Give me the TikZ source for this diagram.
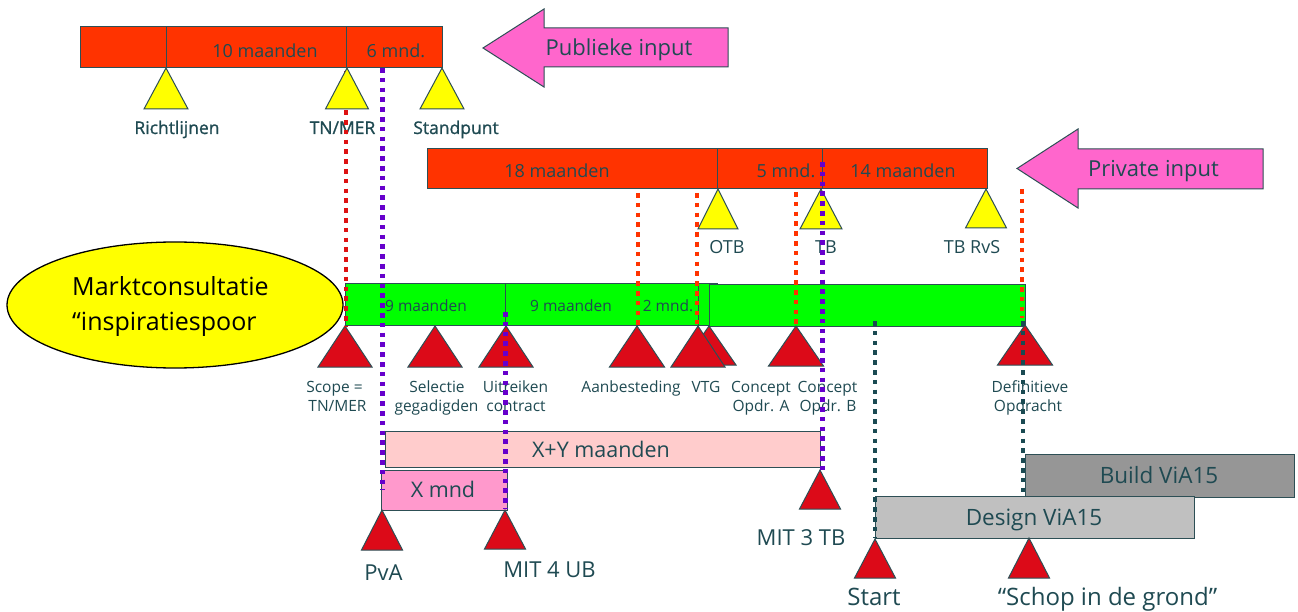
\documentclass[tikz,border=0pt]{standalone}
\usepackage{fontspec}
\setmainfont{Open Sans}
\newfontfamily\boldish[FakeBold=1.0]{Open Sans}
\definecolor{txt}{HTML}{1F4A52}
\definecolor{edge}{HTML}{2D4F55}
\definecolor{barred}{HTML}{FF3300}
\definecolor{yel}{HTML}{FFFF00}
\definecolor{pinkarrow}{HTML}{FF66CC}
\definecolor{grn}{HTML}{00FF00}
\definecolor{trired}{HTML}{DC0A18}
\definecolor{xybar}{HTML}{FFCCCC}
\definecolor{xbar}{HTML}{FF99CC}
\definecolor{buildgray}{HTML}{969696}
\definecolor{designgray}{HTML}{C0C0C0}
\definecolor{crimsondot}{HTML}{DD1111}
\definecolor{orangedot}{HTML}{FF3300}
\definecolor{purpledot}{HTML}{6600CC}
\definecolor{tealdot}{HTML}{1A4A52}
\newcommand\mytri[6]{%
  \coordinate (#1) at (#2,#3);
  \draw[tb,fill=#6] (#1) -- ++(-#4,#5) -- ++({2*#4},0) -- cycle;}
\newcommand\fs[1]{\fontsize{#1}{#1}\selectfont}
\begin{document}
\begin{tikzpicture}[x=1pt,y=-1pt,
  barbox/.style={draw=edge,line width=1pt,anchor=north west,inner sep=0pt,outer sep=0pt},
  lbl/.style={text=txt,inner sep=0pt,anchor=base},
  dotline/.style={line width=4.6pt,dash pattern=on 4.6pt off 5.2pt},
  tb/.style={draw=edge,line width=1pt,line join=miter},
  bartext/.style={lbl,font=\fs{18}},
  toplbl/.style={lbl,font=\boldish\fs{17.5}},
  grnlbl/.style={lbl,font=\fs{15.5}},
]
\useasboundingbox (0,0) rectangle (1298,612);
\fill[white] (0,0) rectangle (1298,612);

% ---------- public row ----------
\node[barbox,fill=barred,minimum width=86pt,minimum height=41pt] (p1) at (80,27) {};
\node[barbox,fill=barred,minimum width=180pt,minimum height=41pt] (p2) at (166,27) {};
\node[barbox,fill=barred,minimum width=96pt,minimum height=41pt] (p3) at (346,27) {};
\node[bartext] (t10) at (265,57.5) {10 maanden};
\node[bartext] (t6) at (396,57.5) {6 mnd.};

\draw[tb,fill=pinkarrow] (483,48) -- (544,9) -- (544,28) -- (728,28) -- (728,67) -- (544,67) -- (544,87) -- cycle;
\node[lbl,font=\fs{22}] (pubin) at (619,55.5) {Publieke input};

\mytri{yR}{166}{68}{22}{41}{yel}
\mytri{ySt}{442}{68}{22}{41}{yel}
\node[toplbl] (lR) at (177,134) {Richtlijnen};
\node[toplbl] (lTN) at (342.5,134) {TN/MER};
\node[toplbl] (lSt) at (456,134) {Standpunt};

% ---------- private row ----------
\node[barbox,fill=barred,minimum width=290pt,minimum height=40pt] (q1) at (427,149) {};
\node[barbox,fill=barred,minimum width=105pt,minimum height=40pt] (q2) at (717,149) {};
\node[barbox,fill=barred,minimum width=165pt,minimum height=40pt] (q3) at (822,149) {};
\node[bartext] (t18) at (557,178) {18 maanden};
\node[bartext] (t5) at (786,178) {5 mnd.};
\node[bartext] (t14) at (903,178) {14 maanden};

\draw[tb,fill=pinkarrow] (1017,168.5) -- (1078,129) -- (1078,149) -- (1263,149) -- (1263,189) -- (1078,189) -- (1078,208) -- cycle;
\node[lbl,font=\fs{22}] (privin) at (1153.5,177) {Private input};

\mytri{yOTB}{718}{189}{20}{40}{yel}
\mytri{yTB}{821}{189}{21}{40}{yel}
\mytri{yRvS}{986}{189}{20.5}{39}{yel}
\node[lbl,font=\fs{18}] (lOTB) at (727,254) {OTB};
\node[lbl,font=\fs{18}] (lTB) at (826,253.5) {TB};
\node[lbl,font=\fs{18}] (lRvS) at (972,254) {TB RvS};

% ---------- ellipse ----------
\draw[line width=1.3pt,fill=yel] (175,305) ellipse [x radius=168, y radius=63];
\node[inner sep=0pt,anchor=base west,font=\fs{25}] (m1) at (72,295) {Marktconsultatie};
\node[inner sep=0pt,anchor=base west,font=\fs{25}] (m2) at (72,330) {“inspiratiespoor};

% ---------- green row ----------
\node[barbox,fill=grn,minimum width=372pt,minimum height=41.5pt] (g1) at (345,283.5) {};
\node[barbox,fill=grn,minimum width=316pt,minimum height=41.5pt] (g2) at (709,284.5) {};
\draw[edge,line width=1pt] (505,283.5) -- (505,325);
\draw[edge,line width=1pt] (698,283.5) -- (698,325);
\node[grnlbl] (g9a) at (426,311) {9 maanden};
\node[grnlbl] (g9b) at (571,311) {9 maanden};
\node[grnlbl] (g2m) at (668,311) {2 mnd.};

\mytri{rScope}{345}{326}{27}{41}{trired}
\mytri{rSel}{435}{326}{27}{41}{trired}
\mytri{rUit}{506}{326}{27}{41}{trired}
\mytri{rAan}{637}{326}{27.5}{41}{trired}
\mytri{rVTGb}{709}{326}{27}{39}{trired}
\mytri{rVTG}{698}{326}{27}{41}{trired}
\mytri{rCon}{796}{326}{27.5}{40}{trired}
\mytri{rDef}{1025}{325}{27.5}{40}{trired}

\node[grnlbl] (lSc1) at (334.5,392) {Scope =};
\node[grnlbl] (lSc2) at (337.5,411.5) {TN/MER};
\node[grnlbl] (lSe1) at (437,392) {Selectie};
\node[grnlbl] (lSe2) at (436.5,411.5) {gegadigden};
\node[grnlbl] (lUi1) at (515.5,392) {Uitreiken};
\node[grnlbl] (lUi2) at (516,411.5) {contract};
\node[grnlbl] (lAan) at (631,392) {Aanbesteding};
\node[grnlbl] (lVTG) at (706,392) {VTG};
\node[grnlbl] (lCA1) at (761,392) {Concept};
\node[grnlbl] (lCA2) at (761,411.5) {Opdr. A};
\node[grnlbl] (lCB1) at (827.5,392) {Concept};
\node[grnlbl] (lCB2) at (828,411.5) {Opdr. B};
\node[grnlbl] (lDe1) at (1030,392) {Definitieve};
\node[grnlbl] (lDe2) at (1028,411.5) {Opdracht};

% ---------- X / X+Y ----------
\node[barbox,fill=xybar,minimum width=435pt,minimum height=36pt] (xy) at (385,431) {};
\node[barbox,fill=xbar,minimum width=126pt,minimum height=40pt] (xm) at (381,470) {};
\node[lbl,font=\fs{21.5}] (txy) at (601,457) {X+Y maanden};
\node[lbl,font=\fs{21.5}] (txm) at (443,497) {X mnd};

\mytri{rPvA}{382}{510}{20.5}{40}{trired}
\mytri{rMIT4}{505}{510}{20.5}{39}{trired}
\mytri{rMIT3}{820}{470}{20.5}{39}{trired}
\node[lbl,font=\fs{22}] (lPvA) at (383.5,580.5) {PvA};
\node[lbl,font=\fs{22}] (lMIT4) at (549.5,577) {MIT 4 UB};
\node[lbl,font=\fs{22}] (lMIT3) at (801,545.5) {MIT 3 TB};

% ---------- design / build ----------
\node[barbox,fill=buildgray,minimum width=269pt,minimum height=43pt] (build) at (1025,454) {};
\node[barbox,fill=designgray,minimum width=319pt,minimum height=42pt] (design) at (875,496) {};
\node[lbl,font=\fs{22.5}] (tbuild) at (1159,483) {Build ViA15};
\node[lbl,font=\fs{22.5}] (tdesign) at (1034,525.5) {Design ViA15};

\mytri{rStart}{875}{539}{20.5}{39}{trired}
\mytri{rSchop}{1029}{538}{20.5}{40}{trired}
\node[lbl,font=\fs{24}] (lStart) at (874,605.5) {Start};
\node[lbl,font=\fs{24}] (lSchop) at (1107.5,605) {“Schop in de grond”};

% ---------- dotted connectors ----------
\coordinate (c1a) at (346,71);  \coordinate (c1b) at (346,326);
\coordinate (v1a) at (382,68);  \coordinate (v1b) at (382,490);
\coordinate (v2a) at (505,312); \coordinate (v2b) at (505,509);
\coordinate (v3a) at (822,162); \coordinate (v3b) at (822,470);
\coordinate (o1a) at (638,193); \coordinate (o1b) at (638,325);
\coordinate (o2a) at (697,193); \coordinate (o2b) at (697,324);
\coordinate (o3a) at (796,192); \coordinate (o3b) at (796,324);
\coordinate (o4a) at (1022,189); \coordinate (o4b) at (1022,318);
\coordinate (k1a) at (875,321); \coordinate (k1b) at (875,538);
\coordinate (k2a) at (1023,321); \coordinate (k2b) at (1023,493);

\draw[dotline,crimsondot] (c1a) -- (c1b);
\draw[dotline,orangedot] (o1a) -- (o1b);
\draw[dotline,orangedot] (o2a) -- (o2b);
\draw[dotline,orangedot] (o3a) -- (o3b);
\draw[dotline,orangedot] (o4a) -- (o4b);
\draw[dotline,tealdot] (k1a) -- (k1b);
\draw[dotline,tealdot] (k2a) -- (k2b);
\draw[dotline,purpledot,line width=5pt] (v1a) -- (v1b);
\draw[dotline,purpledot,line width=5pt] (v2a) -- (v2b);
\draw[dotline,purpledot,line width=5pt] (v3a) -- (v3b);

\mytri{yTN}{347}{68}{21.5}{41}{yel}
\end{tikzpicture}
\end{document}
